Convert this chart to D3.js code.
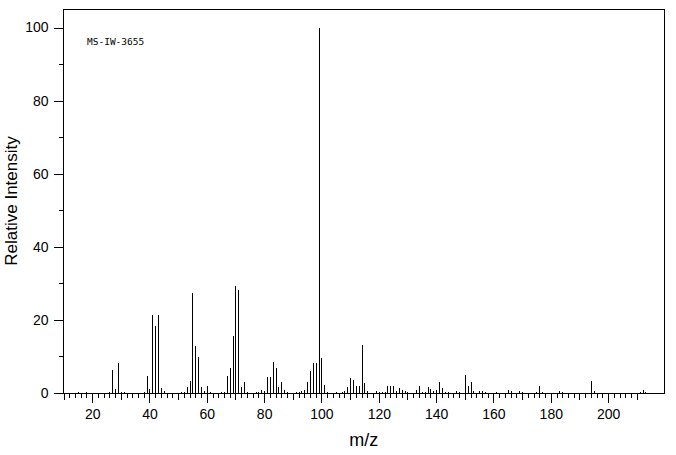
<!DOCTYPE html>
<html>
<head>
<meta charset="utf-8">
<script src="https://cdn.jsdelivr.net/npm/d3@7"></script>
<style>
  body { margin: 0; background: #fff; }
  svg { display: block; }
  text { font-family: "Liberation Sans", Arial, sans-serif; fill: #000; }
</style>
</head>
<body>
<svg></svg>
<script>
// peak list
const mz = [15, 18, 26, 27, 28, 29, 30, 31, 38, 39, 40, 41, 42, 43, 44, 45,
  51, 52, 53, 54, 55, 56, 57, 58, 59, 60, 61, 65, 66, 67, 68, 69, 70, 71, 72, 73, 74,
  77, 78, 79, 80, 81, 82, 83, 84, 85, 86, 87, 88, 91, 92, 93, 94, 95, 96, 97, 98, 99,
  100, 101, 102, 105, 107, 108, 109, 110, 111, 112, 113, 114, 115, 116, 119, 120, 121,
  122, 123, 124, 125, 126, 127, 128, 129, 130, 133, 134, 135, 136, 137, 138, 139, 140,
  141, 142, 143, 144, 147, 148, 150, 151, 152, 153, 155, 156, 157, 161, 165, 166, 169,
  170, 175, 176, 177, 183, 184, 194, 195, 211, 212, 213];
const intensity = [0.35, 0.3, 0.3, 6.4, 1.2, 8.3, 0.4, 0.4, 0.4, 4.7, 1.2, 21.4, 18.4, 21.4, 1.5, 0.6,
  0.4, 0.4, 1.7, 3.4, 27.4, 12.9, 9.9, 1.7, 0.6, 2.0, 0.4, 0.4, 0.4, 4.7, 6.9, 15.7, 29.4, 28.3, 1.7, 3.0, 0.4,
  0.4, 0.4, 0.8, 0.6, 4.5, 4.5, 8.6, 6.9, 1.7, 3.0, 0.8, 0.4, 0.4, 0.4, 0.6, 0.9, 3.1, 6.1, 8.3, 8.3, 100,
  9.7, 2.3, 0.4, 0.4, 0.4, 0.6, 1.7, 4.2, 3.6, 2.0, 2.0, 13.2, 2.8, 0.6, 0.6, 0.4, 0.4,
  0.4, 2.0, 2.0, 2.0, 0.6, 1.3, 0.8, 0.6, 0.3, 0.8, 2.0, 0.4, 0.4, 1.7, 1.2, 0.6, 0.8,
  3.1, 1.3, 0.4, 0.4, 0.6, 0.4, 5.0, 2.0, 3.1, 0.6, 0.6, 0.6, 0.4, 0.4, 0.8, 0.6, 0.6,
  0.4, 0.4, 2.0, 0.4, 0.6, 0.4, 3.4, 0.6, 0.4, 0.8, 0.4];

const xTickLabels = [20, 40, 60, 80, 100, 120, 140, 160, 180, 200];
const yTickLabels = [0, 20, 40, 60, 80, 100];
const sampleId = 'MS-IW-3655';

const width = 676, height = 455;
const margin = {top: 9.5, right: 12, bottom: 62, left: 63.5};

const svg = d3.select('svg')
    .attr('width', width)
    .attr('height', height);

const x = d3.scaleLinear()
    .domain([10, 219.5])
    .range([margin.left, width - margin.right]);

const y = d3.scaleLinear()
    .domain([0, 100])
    .range([393, 27.5]);

const px = v => Math.round(x(v)) + 0.5;

// frame
svg.append('rect')
    .attr('x', margin.left)
    .attr('y', margin.top)
    .attr('width', width - margin.right - margin.left)
    .attr('height', 393 - margin.top)
    .attr('fill', 'none')
    .attr('stroke', '#000')
    .attr('shape-rendering', 'crispEdges');

// x axis: minor every 2, medium every 10, major every 20
const xMinor = d3.range(10, 211, 2);
const xMid = d3.range(10, 211, 10);

svg.append('g')
    .attr('transform', 'translate(0,393)')
    .call(d3.axisBottom(x).tickValues(xMinor).tickSize(5).tickFormat('').tickSizeOuter(0))
    .call(g => g.select('.domain').remove());
svg.append('g')
    .attr('transform', 'translate(0,393)')
    .call(d3.axisBottom(x).tickValues(xMid).tickSize(7).tickFormat('').tickSizeOuter(0))
    .call(g => g.select('.domain').remove());
svg.append('g')
    .attr('transform', 'translate(0,393)')
    .call(d3.axisBottom(x).tickValues(xTickLabels).tickSize(10).tickPadding(6).tickSizeOuter(0))
    .call(g => g.select('.domain').remove())
    .call(g => g.selectAll('text').style('font-size', '14px'));

// y axis
svg.append('g')
    .attr('transform', `translate(${margin.left},0)`)
    .call(d3.axisLeft(y).tickValues(d3.range(10, 100, 20)).tickSize(5).tickFormat('').tickSizeOuter(0))
    .call(g => g.select('.domain').remove());
svg.append('g')
    .attr('transform', `translate(${margin.left},0)`)
    .call(d3.axisLeft(y).tickValues(yTickLabels).tickSize(10).tickPadding(5).tickSizeOuter(0))
    .call(g => g.select('.domain').remove())
    .call(g => g.selectAll('text').style('font-size', '14px'));

svg.selectAll('.tick line').attr('shape-rendering', 'crispEdges');

// peaks
svg.append('g')
    .selectAll('line')
    .data(mz.map((m, i) => ({m, v: intensity[i]})))
    .join('line')
    .attr('x1', d => px(d.m))
    .attr('x2', d => px(d.m))
    .attr('y1', y(0))
    .attr('y2', d => y(d.v))
    .attr('stroke', '#000')
    .attr('stroke-width', 1)
    .attr('shape-rendering', 'crispEdges');

// labels
svg.append('text')
    .attr('x', 87)
    .attr('y', 45)
    .style('font-family', '"DejaVu Sans Mono", monospace')
    .style('font-size', '9.5px')
    .text(sampleId);

svg.append('text')
    .attr('x', (margin.left + width - margin.right) / 2)
    .attr('y', 446)
    .attr('text-anchor', 'middle')
    .style('font-size', '18px')
    .text('m/z');

svg.append('text')
    .attr('transform', 'translate(17,201) rotate(-90)')
    .attr('text-anchor', 'middle')
    .style('font-size', '17px')
    .text('Relative Intensity');
</script>
</body>
</html>
